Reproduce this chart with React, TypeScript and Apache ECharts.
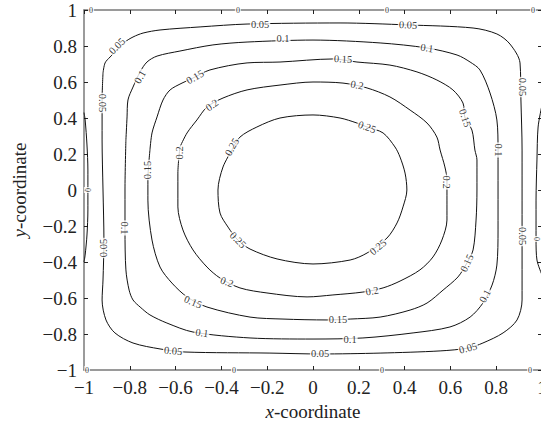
import React, { useEffect, useRef } from "react";
import * as echarts from "echarts";

// ---- tick labels ----
const tickValues = [-1, -0.8, -0.6, -0.4, -0.2, 0, 0.2, 0.4, 0.6, 0.8, 1];
const tickLabels = ["−1", "−0.8", "−0.6", "−0.4", "−0.2", "0", "0.2", "0.4", "0.6", "0.8", "1"];

// ---- contour lines: [x, y] ----
const contour005 = [
  [-0.917, 0.65], [-0.921, 0.5], [-0.921, 0.278], [-0.917, 0], [-0.913, -0.278], [-0.917, -0.5],
  [-0.921, -0.611], [-0.904, -0.722], [-0.865, -0.794], [-0.786, -0.85], [-0.668, -0.883],
  [-0.559, -0.9], [-0.188, -0.906], [0.031, -0.911], [0.293, -0.906], [0.555, -0.894],
  [0.677, -0.878], [0.742, -0.85], [0.83, -0.794], [0.891, -0.722], [0.913, -0.611],
  [0.913, -0.389], [0.913, -0.056], [0.913, 0.222], [0.908, 0.5], [0.904, 0.706], [0.86, 0.811],
  [0.803, 0.867], [0.699, 0.9], [0.415, 0.917], [0.118, 0.928], [-0.288, 0.922], [-0.493, 0.906],
  [-0.668, 0.889], [-0.742, 0.872], [-0.786, 0.85], [-0.821, 0.822], [-0.886, 0.739],
  [-0.908, 0.706], [-0.917, 0.65],
];
const contour010 = [
  [-0.817, 0.278], [-0.821, 0], [-0.821, -0.222], [-0.817, -0.444], [-0.803, -0.556],
  [-0.786, -0.611], [-0.755, -0.65], [-0.712, -0.694], [-0.638, -0.739], [-0.524, -0.789],
  [-0.275, -0.822], [0, -0.828], [0.218, -0.822], [0.437, -0.794], [0.598, -0.761],
  [0.686, -0.706], [0.742, -0.628], [0.782, -0.528], [0.803, -0.417], [0.808, -0.222],
  [0.808, 0], [0.808, 0.222], [0.803, 0.389], [0.773, 0.539], [0.729, 0.667], [0.686, 0.711],
  [0.629, 0.75], [0.498, 0.789], [0.293, 0.817], [0, 0.833], [-0.288, 0.822], [-0.437, 0.806],
  [-0.581, 0.772], [-0.681, 0.744], [-0.725, 0.711], [-0.755, 0.656], [-0.786, 0.572],
  [-0.808, 0.5], [-0.812, 0.406], [-0.817, 0.278],
];
const contour015 = [
  [-0.712, 0.222], [-0.721, 0.056], [-0.721, -0.056], [-0.703, -0.278], [-0.668, -0.428],
  [-0.616, -0.517], [-0.55, -0.594], [-0.463, -0.65], [-0.275, -0.706], [-0.131, -0.717],
  [0.061, -0.722], [0.162, -0.717], [0.293, -0.706], [0.424, -0.667], [0.498, -0.628],
  [0.568, -0.556], [0.633, -0.483], [0.672, -0.406], [0.699, -0.333], [0.712, -0.167],
  [0.716, 0], [0.716, 0.167], [0.707, 0.222], [0.694, 0.333], [0.664, 0.4], [0.655, 0.483],
  [0.611, 0.556], [0.541, 0.611], [0.454, 0.656], [0.336, 0.694], [0.192, 0.711], [0.087, 0.728],
  [-0.144, 0.711], [-0.288, 0.706], [-0.45, 0.667], [-0.524, 0.622], [-0.572, 0.594],
  [-0.624, 0.556], [-0.655, 0.5], [-0.681, 0.406], [-0.703, 0.317], [-0.712, 0.222],
];
const contour020 = [
  [-0.581, 0.239], [-0.59, 0.094], [-0.59, -0.094], [-0.568, -0.222], [-0.524, -0.333],
  [-0.463, -0.428], [-0.406, -0.489], [-0.319, -0.544], [-0.201, -0.572], [-0.026, -0.594],
  [0.087, -0.583], [0.218, -0.567], [0.306, -0.544], [0.38, -0.506], [0.467, -0.444],
  [0.524, -0.372], [0.563, -0.278], [0.585, -0.167], [0.585, -0.056], [0.585, 0.056],
  [0.576, 0.128], [0.555, 0.222], [0.541, 0.294], [0.498, 0.372], [0.424, 0.444], [0.336, 0.517],
  [0.236, 0.567], [0.131, 0.594], [0, 0.6], [-0.144, 0.583], [-0.288, 0.556], [-0.393, 0.511],
  [-0.463, 0.461], [-0.507, 0.389], [-0.55, 0.317], [-0.581, 0.239],
];
const contour025 = [
  [-0.354, 0.222], [-0.393, 0.128], [-0.415, 0], [-0.406, -0.128], [-0.371, -0.206],
  [-0.328, -0.278], [-0.275, -0.328], [-0.157, -0.383], [0, -0.411], [0.162, -0.389],
  [0.236, -0.35], [0.323, -0.267], [0.367, -0.183], [0.393, -0.094], [0.41, 0], [0.402, 0.094],
  [0.38, 0.183], [0.358, 0.239], [0.306, 0.317], [0.236, 0.35], [0.192, 0.372], [0.118, 0.4],
  [0, 0.417], [-0.144, 0.4], [-0.245, 0.35], [-0.319, 0.294], [-0.354, 0.222],
];
const contourZeroLeft = [
  [-1, 0.43], [-0.995, 0.389], [-0.987, 0.25], [-0.983, 0.111], [-0.983, 0], [-0.983, -0.111],
  [-0.987, -0.25], [-0.995, -0.361], [-1, -0.4],
];
const contourZeroRight = [
  [1, 0.472], [0.983, 0.35], [0.978, 0.167], [0.974, -0.056], [0.974, -0.278], [0.978, -0.389],
  [1, -0.472],
];

// ---- contour labels: [x, y, rotation] ----
const labels005 = [
  [-0.856, 0.8, 45], [-0.921, 0.483, -90], [-0.913, -0.322, 90], [-0.611, -0.894, -5],
  [0.031, -0.911, 0], [0.677, -0.878, 15], [0.913, -0.256, -90], [0.917, 0.572, -90],
  [0.415, 0.917, -3], [-0.231, 0.917, 0],
];
const labels010 = [
  [-0.755, 0.628, 60], [-0.821, -0.211, -90], [-0.485, -0.794, -8], [0.162, -0.828, 0],
  [0.751, -0.589, 62], [0.808, 0.222, -90], [0.498, 0.789, -8], [-0.131, 0.839, 0],
];
const labels015 = [
  [-0.515, 0.628, 30], [-0.721, 0.111, 90], [-0.524, -0.622, -22], [0.109, -0.722, 0],
  [0.672, -0.406, 65], [0.664, 0.4, -70], [0.131, 0.728, -3],
];
const labels020 = [
  [-0.441, 0.472, 35], [-0.581, 0.206, 90], [-0.376, -0.511, -20], [0.258, -0.561, 10],
  [0.585, 0.044, -90], [0.192, 0.583, -10],
];
const labels025 = [
  [-0.354, 0.239, 60], [-0.328, -0.278, -45], [0.284, -0.317, 40], [0.236, 0.35, -20],
];
const labels000 = [
  [-0.969, 1, 0], [-0.328, 1, 0], [0.323, 1, 0], [0.961, 1, 0],
  [-0.987, -1, 0], [-0.345, -1, 0], [0.301, -1, 0], [0.948, -1, 0],
  [-0.983, 0, -90], [0.978, -0.272, -90],
];

const contours = [contour005, contour010, contour015, contour020, contour025, contourZeroLeft, contourZeroRight];
const labelGroups = [
  { text: "0", items: labels000, size: 8 },
  { text: "0.05", items: labels005, size: 10.5 },
  { text: "0.1", items: labels010, size: 10.5 },
  { text: "0.15", items: labels015, size: 10.5 },
  { text: "0.2", items: labels020, size: 10.5 },
  { text: "0.25", items: labels025, size: 10.5 },
];

const FONT = "'Liberation Serif', 'DejaVu Serif', serif";

function fmtTick(v: number) {
  const i = tickValues.findIndex((t) => Math.abs(t - v) < 1e-6);
  return i >= 0 ? tickLabels[i] : "";
}

export default function App() {
  const ref = useRef<HTMLDivElement>(null);
  useEffect(() => {
    if (!ref.current) return;
    const chart = echarts.init(ref.current, undefined, { renderer: "svg" });
    const axisLine = { show: true, onZero: false, lineStyle: { color: "#7a7a7a", width: 1.5 } };
    const axisTick = { show: true, inside: true, length: 4, lineStyle: { color: "#222", width: 1 } };
    const labelSeries = labelGroups.map((g) => ({
      type: "scatter",
      data: g.items.map((p) => ({ value: [p[0], p[1]], label: { rotate: p[2] } })),
      symbolSize: 0,
      itemStyle: { color: "#000" },
      silent: true,
      clip: false,
      z: 5,
      label: {
        show: true,
        position: "inside",
        formatter: g.text,
        fontSize: g.size,
        fontFamily: FONT,
        color: "#000",
        textBorderWidth: 0,
        textBorderColor: "transparent",
        backgroundColor: "#fff",
        padding: [0, 1],
        lineHeight: g.size,
      },
    }));
    chart.setOption({
      animation: false,
      backgroundColor: "#fff",
      color: ["#000"],
      grid: { left: 84, top: 10, width: 458, height: 360, containLabel: false, outerBoundsMode: "none" },
      xAxis: [
        {
          type: "value", position: "bottom", min: -1, max: 1, interval: 0.2,
          axisLine, axisTick, splitLine: { show: false },
          axisLabel: { formatter: fmtTick, fontSize: 19, fontFamily: FONT, color: "#222", margin: 8 },
          name: "{i|x}-coordinate", nameLocation: "middle", nameGap: 32,
          nameTextStyle: {
            fontSize: 19, fontFamily: FONT, color: "#222",
            rich: { i: { fontStyle: "italic", fontSize: 19, fontFamily: FONT, color: "#222" } },
          },
        },
        {
          type: "value", position: "top", min: -1, max: 1, interval: 0.2,
          axisLine, axisTick, splitLine: { show: false }, axisLabel: { show: false },
        },
      ],
      yAxis: [
        {
          type: "value", position: "left", min: -1, max: 1, interval: 0.2,
          axisLine, axisTick, splitLine: { show: false },
          axisLabel: { formatter: fmtTick, fontSize: 19, fontFamily: FONT, color: "#222", margin: 7 },
          name: "{i|y}-coordinate", nameLocation: "middle", nameGap: 55, nameRotate: 90,
          nameTextStyle: {
            fontSize: 19, fontFamily: FONT, color: "#222",
            rich: { i: { fontStyle: "italic", fontSize: 19, fontFamily: FONT, color: "#222" } },
          },
        },
        {
          type: "value", position: "right", min: -1, max: 1, interval: 0.2,
          axisLine, axisTick, splitLine: { show: false }, axisLabel: { show: false },
        },
      ],
      series: [
        ...contours.map((c) => ({
          type: "line",
          data: c,
          smooth: 0.3,
          symbol: "none",
          silent: true,
          clip: true,
          lineStyle: { color: "#111", width: 1 },
          z: 2,
        })),
        ...labelSeries,
      ],
    });
    return () => chart.dispose();
  }, []);
  return <div ref={ref} style={{ position: "fixed", left: 0, top: 0, width: 541, height: 434 }} />;
}
